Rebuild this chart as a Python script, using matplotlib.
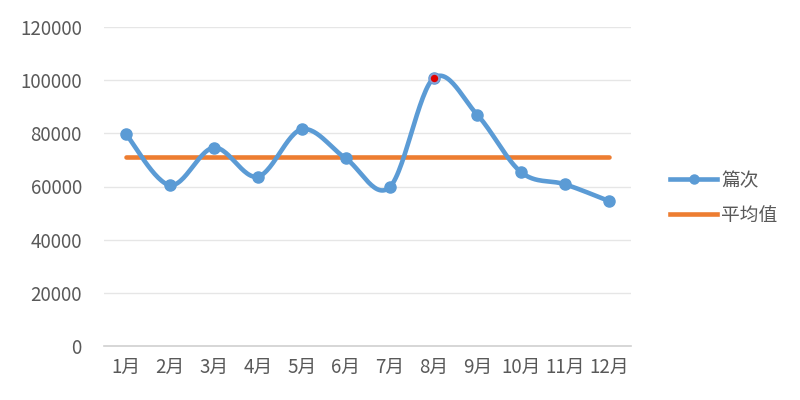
import matplotlib
matplotlib.use("Agg")
import matplotlib.pyplot as plt
from matplotlib.lines import Line2D
import numpy as np

plt.rcParams['font.family'] = ['Noto Sans CJK SC', 'DejaVu Sans']

months = ['1月', '2月', '3月', '4月', '5月', '6月', '7月', '8月', '9月', '10月', '11月', '12月']
counts = [79750, 60500, 74600, 63700, 81500, 70600, 59700, 100700, 86900, 65300, 60800, 54500]
average = [71200] * 12
highlight = 7  # 8月 point drawn in red


def smooth(y, n=30):
    "Catmull-Rom style curve through the points (like Excel's smoothed line)"
    y = np.asarray(y, float)
    x = np.arange(len(y), dtype=float)
    px = np.concatenate([[x[0]], x, [x[-1]]])
    py = np.concatenate([[y[0]], y, [y[-1]]])
    xs, ys = [], []
    for i in range(1, len(px) - 2):
        p0, p1, p2, p3 = [np.array([px[j], py[j]]) for j in (i - 1, i, i + 1, i + 2)]
        c1 = p1 + (p2 - p0) / 6
        c2 = p2 - (p3 - p1) / 6
        t = np.linspace(0, 1, n)[:, None]
        pts = (1 - t) ** 3 * p1 + 3 * (1 - t) ** 2 * t * c1 + 3 * (1 - t) * t ** 2 * c2 + t ** 3 * p2
        xs.extend(pts[:, 0])
        ys.extend(pts[:, 1])
    return np.array(xs), np.array(ys)


blue = '#5B9BD5'
orange = '#ED7D31'

fig = plt.figure(figsize=(8, 4), dpi=100)
ax = fig.add_axes([0.13, 0.135, 0.659, 0.7975])

x = np.arange(len(months))
sx, sy = smooth(counts)
ax.plot(sx, sy, color=blue, lw=3.3, solid_capstyle='round', zorder=3)
ax.plot(x, counts, 'o', color=blue, ms=8, zorder=4)
ax.plot(x[highlight], counts[highlight], 'o', color='#E00000', mec='#8E9FD0', mew=1.2, ms=6.5, zorder=5)
ax.plot(x, average, color=orange, lw=3.3, solid_capstyle='round', zorder=2)

ax.set_xlim(-0.5, 11.5)
ax.set_ylim(0, 120000)
ax.set_yticks(range(0, 120001, 20000))
ax.set_xticks(x)
ax.set_xticklabels(months)
ax.tick_params(length=0, labelsize=13.5, colors='#595959', pad=8)
ax.tick_params(axis='y', pad=16)
ax.grid(axis='y', color='#E6E6E6', lw=1)
ax.set_axisbelow(True)
for s in ['top', 'right', 'left']:
    ax.spines[s].set_visible(False)
ax.spines['bottom'].set_color('#D0D0D0')
ax.spines['bottom'].set_linewidth(1.2)

# legend handles
h1 = Line2D([], [], color=blue, lw=3.3, marker='o', ms=6.5)
h2 = Line2D([], [], color=orange, lw=3.3)
fig.legend([h1, h2], ['篇次', '平均值'], loc='center left', bbox_to_anchor=(0.817, 0.505),
           frameon=False, fontsize=13.5, labelcolor='#595959', handlelength=2.5,
           handletextpad=0.2, labelspacing=0.75)

fig.savefig('out.png', dpi=100)
